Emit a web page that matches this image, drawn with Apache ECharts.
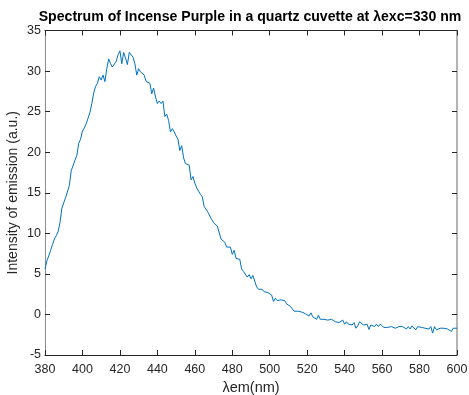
<!DOCTYPE html>
<html>
<head>
<meta charset="utf-8">
<script src="https://cdn.jsdelivr.net/npm/echarts@6/dist/echarts.min.js"></script>
<style>
  html, body { margin: 0; padding: 0; background: #ffffff; }
  #chart { width: 469px; height: 395px; }
</style>
</head>
<body>
<div id="chart"></div>
<script>
// Emission wavelengths (nm)
const wavelengths = [
  380, 381, 382, 383, 384, 385, 386, 387, 388, 389, 390, 391, 392, 393, 394, 395, 396, 397, 398, 399,
  400, 401, 402, 403, 404, 405, 406, 407, 408, 409, 410, 411, 412, 413, 414, 415, 416, 417, 418, 419,
  420, 421, 422, 423, 424, 425, 426, 427, 428, 429, 430, 431, 432, 433, 434, 435, 436, 437, 438, 439,
  440, 441, 442, 443, 444, 445, 446, 447, 448, 449, 450, 451, 452, 453, 454, 455, 456, 457, 458, 459,
  460, 461, 462, 463, 464, 465, 466, 467, 468, 469, 470, 471, 472, 473, 474, 475, 476, 477, 478, 479,
  480, 481, 482, 483, 484, 485, 486, 487, 488, 489, 490, 491, 492, 493, 494, 495, 496, 497, 498, 499,
  500, 501, 502, 503, 504, 505, 506, 507, 508, 509, 510, 511, 512, 513, 514, 515, 516, 517, 518, 519,
  520, 521, 522, 523, 524, 525, 526, 527, 528, 529, 530, 531, 532, 533, 534, 535, 536, 537, 538, 539,
  540, 541, 542, 543, 544, 545, 546, 547, 548, 549, 550, 551, 552, 553, 554, 555, 556, 557, 558, 559,
  560, 561, 562, 563, 564, 565, 566, 567, 568, 569, 570, 571, 572, 573, 574, 575, 576, 577, 578, 579,
  580, 581, 582, 583, 584, 585, 586, 587, 588, 589, 590, 591, 592, 593, 594, 595, 596, 597, 598, 599,
  600
];

// Emission intensity (a.u.)
const intensity = [
  5.6, 6.6, 7.2, 7.9, 8.6, 9.3, 9.7, 10.2, 11.3, 13.1, 13.2, 14.4, 14.6, 15.9, 17.7, 17.9, 19.0, 19.6, 21.1, 21.6,
  22.6, 23.0, 23.5, 24.2, 24.9, 26.0, 27.3, 28.1, 28.5, 29.3, 28.9, 29.5, 28.7, 30.3, 31.5, 30.9, 30.5, 30.6, 31.2, 32.0,
  32.5, 30.9, 32.3, 31.6, 30.8, 32.3, 32.1, 31.7, 30.9, 29.5, 30.3, 29.9, 29.8, 29.5, 28.7, 28.5, 28.5, 27.2, 27.9, 26.8,
  26.0, 26.3, 26.0, 26.3, 24.4, 24.7, 23.9, 22.5, 22.9, 22.5, 22.0, 21.6, 20.2, 20.8, 19.3, 18.6, 18.5, 18.4, 16.6, 17.0,
  16.2, 15.6, 15.2, 14.8, 14.5, 13.3, 13.2, 12.6, 12.7, 11.7, 11.3, 11.1, 10.9, 11.1, 9.3, 9.5, 8.9, 8.3, 8.1, 8.3,
  7.4, 7.9, 6.9, 6.8, 6.8, 5.6, 5.3, 5.1, 4.6, 4.9, 4.4, 4.8, 4.7, 3.4, 3.1, 3.0, 3.1, 2.8, 3.0, 2.7,
  2.5, 2.4, 1.6, 2.0, 1.7, 1.9, 1.8, 1.6, 1.7, 1.3, 1.2, 1.0, 0.8, 0.4, 0.4, 0.4, 0.4, 0.3, 0.2, 0.1,
  -0.1, -0.2, 0.2, -0.3, -0.5, -0.6, -0.1, -0.6, -0.8, -0.6, -0.6, -0.7, -0.6, -0.6, -0.8, -0.9, -1.0, -1.0, -0.8, -0.7,
  -1.2, -0.9, -1.2, -1.0, -1.3, -1.0, -1.7, -1.4, -0.9, -1.1, -1.3, -1.5, -1.2, -1.85, -1.3, -1.1, -1.5, -1.2, -1.5, -1.2,
  -1.3, -1.6, -1.5, -1.6, -1.7, -1.5, -1.4, -1.7, -1.6, -1.5, -1.7, -1.5, -1.6, -1.8, -1.5, -1.8, -1.4, -1.6, -1.9, -1.5,
  -1.3, -1.6, -1.7, -1.7, -1.7, -1.8, -1.5, -2.3, -1.5, -1.9, -1.8, -1.7, -1.8, -1.7, -1.9, -1.8, -1.7, -2.1, -1.7, -1.5,
  -1.7
];

// Axis ranges and tick spacing
const xRange = [380, 600];
const xStep = 20;
const yRange = [-5, 35];
const yStep = 5;

const titleText = 'Spectrum of Incense Purple in a quartz cuvette at \u03bbexc=330 nm';
const xLabel = '\u03bbem(nm)';
const yLabel = 'Intensity of emission (a.u.)';

const seriesData = wavelengths.map((w, i) => [w, intensity[i]]);

const FONT = 'Liberation Sans, Arial, Helvetica, sans-serif';
const AXIS_DARK = '#262626';

const chart = echarts.init(document.getElementById('chart'), null, { renderer: 'canvas' });

const tickInside = { show: true, inside: true, length: 5, lineStyle: { color: AXIS_DARK, width: 1 } };

chart.setOption({
  animation: false,
  backgroundColor: '#ffffff',
  // Title centred over the plot box
  graphic: [
    {
      type: 'text',
      x: 250,
      y: 17,
      style: {
        text: titleText,
        align: 'center',
        verticalAlign: 'middle',
        font: 'bold 14.1px ' + FONT,
        fill: '#000000'
      }
    }
  ],
  grid: { left: 45, right: 12, top: 30.5, bottom: 40, containLabel: false, outerBoundsMode: 'none' },
  xAxis: [
    {
      type: 'value', position: 'bottom',
      min: xRange[0], max: xRange[1], interval: xStep,
      name: xLabel, nameLocation: 'middle', nameGap: 25,
      nameTextStyle: { fontFamily: FONT, fontSize: 14.5, color: AXIS_DARK },
      axisLine: { show: true, onZero: false, lineStyle: { color: AXIS_DARK, width: 1 } },
      axisTick: tickInside,
      axisLabel: { fontFamily: FONT, fontSize: 12.5, color: AXIS_DARK, margin: 8 },
      splitLine: { show: false }
    },
    {
      type: 'value', position: 'top',
      min: xRange[0], max: xRange[1], interval: xStep,
      axisLine: { show: true, onZero: false, lineStyle: { color: AXIS_DARK, width: 1 } },
      axisTick: tickInside,
      axisLabel: { show: false },
      splitLine: { show: false }
    }
  ],
  yAxis: [
    {
      type: 'value', position: 'left',
      min: yRange[0], max: yRange[1], interval: yStep,
      name: yLabel, nameLocation: 'middle', nameGap: 25, nameMoveOverlap: false,
      nameTextStyle: { fontFamily: FONT, fontSize: 14, color: AXIS_DARK },
      axisLine: { show: true, onZero: false, lineStyle: { color: '#8c8c8c', width: 1 } },
      axisTick: tickInside,
      axisLabel: { fontFamily: FONT, fontSize: 12.5, color: AXIS_DARK, margin: 4 },
      splitLine: { show: false }
    },
    {
      type: 'value', position: 'right',
      min: yRange[0], max: yRange[1], interval: yStep,
      axisLine: { show: true, onZero: false, lineStyle: { color: '#b4b4b4', width: 2 } },
      axisTick: tickInside,
      axisLabel: { show: false },
      splitLine: { show: false }
    }
  ],
  series: [
    {
      type: 'line',
      xAxisIndex: 0,
      yAxisIndex: 0,
      data: seriesData,
      showSymbol: false,
      symbol: 'none',
      lineStyle: { color: '#0072BD', width: 1 },
      itemStyle: { color: '#0072BD' }
    }
  ]
});
</script>
</body>
</html>
